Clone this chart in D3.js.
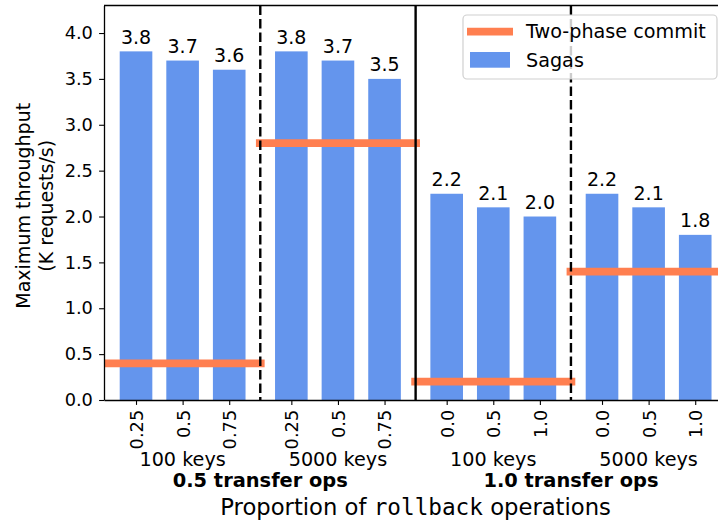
<!DOCTYPE html>
<html>
<head>
<meta charset="utf-8">
<script src="https://cdn.jsdelivr.net/npm/d3@7"></script>
<style>
  html, body { margin: 0; padding: 0; background: #fff; }
  svg { display: block; font-family: "DejaVu Sans", sans-serif; }
  .mono { font-family: "DejaVu Sans Mono", monospace; }
</style>
</head>
<body>
<svg id="chart" width="718" height="523"></svg>
<script>
// Key-space groups, in plotting order
const keyGroups = ["100 keys", "5000 keys", "100 keys", "5000 keys"];
// Transfer-op mixes, each spanning two key-space groups
const transferGroups = ["0.5 transfer ops", "1.0 transfer ops"];
// Rollback proportion tick labels per group
const rollbackLabels = [
  ["0.25", "0.5", "0.75"],
  ["0.25", "0.5", "0.75"],
  ["0.0", "0.5", "1.0"],
  ["0.0", "0.5", "1.0"]
];
// Sagas throughput (K requests/s), one value per bar
const sagasValues = [
  3.8, 3.7, 3.6,
  3.8, 3.7, 3.5,
  2.248, 2.1, 2.0,
  2.248, 2.1, 1.8
];
// Two-phase commit throughput (K requests/s), one value per group
const twoPhaseValues = [0.4, 2.8, 0.2, 1.4];
// Y-axis tick values
const yTicks = [0.0, 0.5, 1.0, 1.5, 2.0, 2.5, 3.0, 3.5, 4.0];

const BLUE = "#6495ED";
const CORAL = "#FF7F50";
const groupStep = 10 / 3;   // spacing between group starts, in bar units
const barWidth = 0.7;
const lineHalf = 1.76;      // half-length of each two-phase line

const svg = d3.select("#chart");
const plotLeft = 104, plotTop = 5.5, plotBottom = 400;

const x = d3.scaleLinear().domain([-0.687, 12.687]).range([plotLeft, plotLeft + 13.374 * 46.6]);
const y = d3.scaleLinear().domain([0, 4.3]).range([plotBottom, plotTop]);

// Build bar records from the arrays
const bars = [];
keyGroups.forEach((g, gi) => {
  rollbackLabels[gi].forEach((lab, j) => {
    bars.push({ pos: gi * groupStep + j, label: lab, value: sagasValues[gi * 3 + j] });
  });
});
const groupCenter = gi => gi * groupStep + 1;

svg.append("defs").append("clipPath").attr("id", "plotclip")
  .append("rect").attr("x", plotLeft).attr("y", plotTop)
  .attr("width", x.range()[1] - plotLeft).attr("height", plotBottom - plotTop);

const plot = svg.append("g").attr("clip-path", "url(#plotclip)");

// Sagas bars
plot.selectAll("rect.bar").data(bars).enter().append("rect")
  .attr("class", "bar")
  .attr("x", d => x(d.pos - barWidth / 2))
  .attr("width", d => x(d.pos + barWidth / 2) - x(d.pos - barWidth / 2))
  .attr("y", d => y(d.value))
  .attr("height", d => y(0) - y(d.value))
  .attr("fill", BLUE);

// Two-phase commit lines
plot.selectAll("line.tpc").data(twoPhaseValues).enter().append("line")
  .attr("class", "tpc")
  .attr("x1", (d, i) => x(groupCenter(i) - lineHalf))
  .attr("x2", (d, i) => x(groupCenter(i) + lineHalf))
  .attr("y1", d => y(d)).attr("y2", d => y(d))
  .attr("stroke", CORAL).attr("stroke-width", 7.7);

// Separators between groups: dashed between key groups, solid between transfer mixes
const seps = [0, 1, 2].map(i => ({ pos: i * groupStep + 2 + (groupStep - 2) / 2, solid: i === 1 }));
plot.selectAll("line.sep").data(seps).enter().append("line")
  .attr("class", "sep")
  .attr("x1", d => x(d.pos)).attr("x2", d => x(d.pos))
  .attr("y1", plotTop).attr("y2", plotBottom)
  .attr("stroke", "#000").attr("stroke-width", 2.4)
  .attr("stroke-dasharray", d => d.solid ? null : "9.5,4");

// Value labels
svg.selectAll("text.val").data(bars).enter().append("text")
  .attr("class", "val")
  .attr("x", d => x(d.pos))
  .attr("y", d => y(d.value) - 7.4)
  .attr("text-anchor", "middle")
  .attr("font-size", 19)
  .text(d => d.value.toFixed(1));

// Y axis
const yAxis = svg.append("g").attr("transform", `translate(${plotLeft},0)`)
  .call(d3.axisLeft(y).tickValues(yTicks).tickFormat(d3.format(".1f"))
    .tickSize(4.9).tickPadding(6.2).tickSizeOuter(0));
yAxis.select(".domain").attr("stroke-width", 1.3);
yAxis.selectAll(".tick line").attr("stroke-width", 1.1);
yAxis.selectAll(".tick text").attr("font-size", 17.8).attr("font-family", "DejaVu Sans").attr("fill", "#000");

// X axis with rotated rollback-proportion labels
const xAxis = svg.append("g").attr("transform", `translate(0,${plotBottom})`)
  .call(d3.axisBottom(x).tickValues(bars.map(d => d.pos))
    .tickFormat((d, i) => bars[i].label).tickSize(4.9).tickSizeOuter(0));
xAxis.select(".domain").attr("stroke-width", 1.3);
xAxis.selectAll(".tick line").attr("stroke-width", 1.1);
xAxis.selectAll(".tick text")
  .attr("font-size", 17.8).attr("font-family", "DejaVu Sans").attr("fill", "#000")
  .attr("x", 0).attr("y", 0).attr("dy", "0.36em")
  .attr("transform", "translate(0,9.8) rotate(-90)")
  .style("text-anchor", "end");

// Top spine
svg.append("line").attr("x1", plotLeft).attr("x2", x.range()[1])
  .attr("y1", plotTop).attr("y2", plotTop).attr("stroke", "#000").attr("stroke-width", 1.3);

// Key-space group labels
svg.selectAll("text.keys").data(keyGroups).enter().append("text")
  .attr("class", "keys")
  .attr("x", (d, i) => x(groupCenter(i)))
  .attr("y", 466)
  .attr("text-anchor", "middle").attr("font-size", 19.2)
  .text(d => d);

// Transfer-mix labels
svg.selectAll("text.mix").data(transferGroups).enter().append("text")
  .attr("class", "mix")
  .attr("x", (d, i) => x((groupCenter(2 * i) + groupCenter(2 * i + 1)) / 2))
  .attr("y", 487)
  .attr("text-anchor", "middle").attr("font-size", 19.4).attr("font-weight", "bold")
  .text(d => d);

// X-axis title
const xt = svg.append("text")
  .attr("x", (plotLeft + x.range()[1]) / 2).attr("y", 515)
  .attr("text-anchor", "middle").attr("font-size", 22.7);
xt.append("tspan").text("Proportion of ");
xt.append("tspan").attr("class", "mono").text("rollback");
xt.append("tspan").text(" operations");

// Y-axis title (two lines)
const yt = svg.append("text")
  .attr("transform", `translate(0,${(plotTop + plotBottom) / 2 + 3}) rotate(-90)`)
  .attr("text-anchor", "middle").attr("font-size", 19);
yt.append("tspan").attr("x", 0).attr("y", 29.5).text("Maximum throughput");
yt.append("tspan").attr("x", 0).attr("y", 52.5).text("(K requests/s)");

// Legend
const lg = svg.append("g");
lg.append("rect").attr("x", 463).attr("y", 15).attr("width", 254).attr("height", 64)
  .attr("rx", 4).attr("fill", "#fff").attr("fill-opacity", 0.8)
  .attr("stroke", "#d0d0d0").attr("stroke-width", 1.2);
lg.append("line").attr("x1", 467).attr("x2", 513).attr("y1", 31.7).attr("y2", 31.7)
  .attr("stroke", CORAL).attr("stroke-width", 7.7);
lg.append("rect").attr("x", 470).attr("y", 52).attr("width", 40).attr("height", 15.7)
  .attr("fill", BLUE);
lg.append("text").attr("x", 526).attr("y", 38.3).attr("font-size", 19.2).text("Two-phase commit");
lg.append("text").attr("x", 526).attr("y", 66.5).attr("font-size", 19.2).text("Sagas");
</script>
</body>
</html>
